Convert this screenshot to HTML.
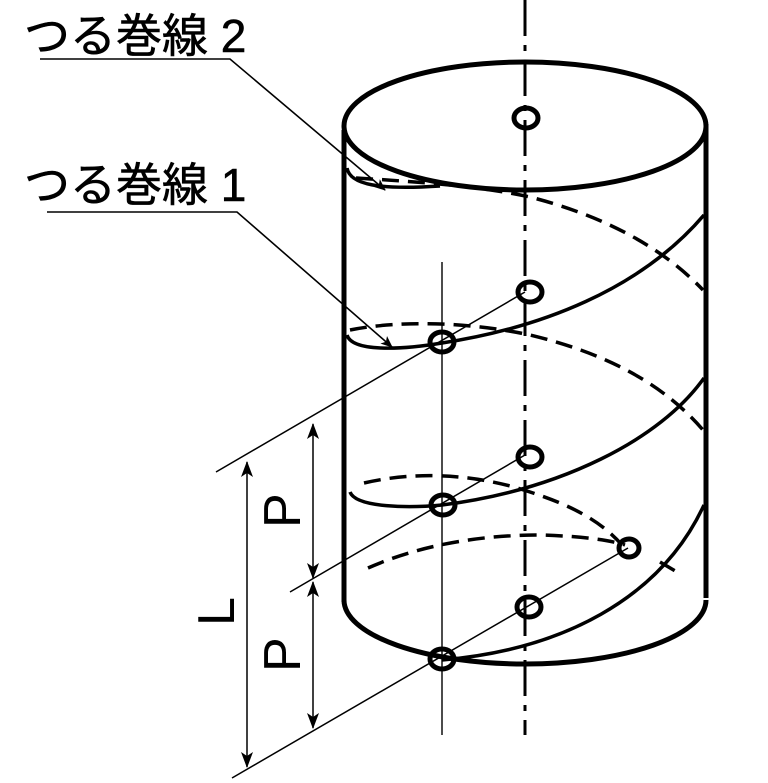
<!DOCTYPE html>
<html><head><meta charset="utf-8"><style>
html,body{margin:0;padding:0;background:#fff;}
svg{display:block;}
text{font-family:"Liberation Sans","Noto Sans CJK JP",sans-serif;fill:#000;}
</style></head><body>
<svg width="768" height="783" viewBox="0 0 768 783" xmlns="http://www.w3.org/2000/svg">
<defs>
<marker id="ah" markerWidth="12" markerHeight="12" refX="11" refY="6" orient="auto" markerUnits="userSpaceOnUse"><path d="M0,1 L12,6 L0,11 L3,6 Z" fill="#000"/></marker>
<marker id="da" markerWidth="16" markerHeight="14" refX="15" refY="7" orient="auto-start-reverse" markerUnits="userSpaceOnUse"><path d="M0,1 L16,7 L0,13 L4,7 Z" fill="#000"/></marker>
</defs>
<!-- labels -->
<text x="24" y="52" font-size="46" stroke="#000" stroke-width="0.6">つる巻線 2</text>
<text x="24" y="201" font-size="46" stroke="#000" stroke-width="0.6">つる巻線 1</text>
<polyline points="40,59 230,59 385,190" fill="none" stroke="#000" stroke-width="1.6" marker-end="url(#ah)"/>
<polyline points="47,212 237,212 392,347" fill="none" stroke="#000" stroke-width="1.6" marker-end="url(#ah)"/>

<!-- axis -->
<line x1="525" y1="0" x2="525" y2="735" stroke="#000" stroke-width="3" stroke-dasharray="36,9,6,9"/>
<line x1="442" y1="262" x2="442" y2="735" stroke="#000" stroke-width="1.4"/>

<!-- cylinder -->
<ellipse cx="525" cy="126" rx="181" ry="64" fill="none" stroke="#000" stroke-width="5"/>
<line x1="344" y1="130" x2="344" y2="602" stroke="#000" stroke-width="5"/>
<line x1="706" y1="124" x2="706" y2="598" stroke="#000" stroke-width="5"/>
<path d="M344,600 A181,64 0 0 0 706,600" fill="none" stroke="#000" stroke-width="5"/>

<!-- hidden helix -->
<g fill="none" stroke="#000" stroke-width="3.5" stroke-dasharray="17,9">
<path d="M356,178 C420,182 480,186 530,197 C600,215 660,245 703,290"/>
<path d="M350,330 C400,320 470,322 530,335 C600,352 660,380 703,430"/>
<path d="M364,483 C420,470 480,475 530,492 C570,505 600,520 622,545"/>
<path d="M368,568 C420,545 480,535 540,535 C580,536 610,540 625,545"/>
<path d="M660,562 L682,575"/>
</g>

<!-- visible helix -->
<g fill="none" stroke="#000" stroke-width="3.5">
<path d="M347,168 C350,185 380,190 440,186"/>
<path d="M347,335 C352,352 400,350 442,343 C540,328 640,290 704,215"/>
<path d="M350,492 C356,508 410,508 442,505 C560,490 660,440 704,378"/>
<path d="M442,660 C560,650 660,600 704,505"/>
</g>

<!-- dimension/extension lines -->
<g stroke="#000" stroke-width="1.5" fill="none">
<line x1="216" y1="472" x2="525" y2="292"/>
<line x1="290" y1="592" x2="525" y2="455"/>
<line x1="232" y1="778" x2="628" y2="548"/>
<line x1="247" y1="462" x2="247" y2="767" marker-start="url(#da)" marker-end="url(#da)"/>
<line x1="313" y1="424" x2="313" y2="578" marker-start="url(#da)" marker-end="url(#da)"/>
<line x1="313" y1="582" x2="313" y2="728" marker-start="url(#da)" marker-end="url(#da)"/>
</g>

<!-- circles -->
<g fill="none" stroke="#000" stroke-width="5">
<ellipse cx="526" cy="118" rx="12" ry="10"/>
<ellipse cx="530" cy="292" rx="12" ry="10"/>
<ellipse cx="530" cy="457" rx="12" ry="10"/>
<ellipse cx="529" cy="607" rx="12" ry="10"/>
<ellipse cx="629" cy="548" rx="10" ry="9"/>
<ellipse cx="442" cy="342" rx="12" ry="10"/>
<ellipse cx="443" cy="505" rx="12" ry="10"/>
<ellipse cx="442" cy="659" rx="12" ry="10"/>
</g>

<!-- dimension text -->
<text font-size="52" transform="translate(300,528) rotate(-90)">P</text>
<text font-size="52" transform="translate(300,672) rotate(-90)">P</text>
<text font-size="52" transform="translate(234,626) rotate(-90)">L</text>
</svg>
</body></html>
